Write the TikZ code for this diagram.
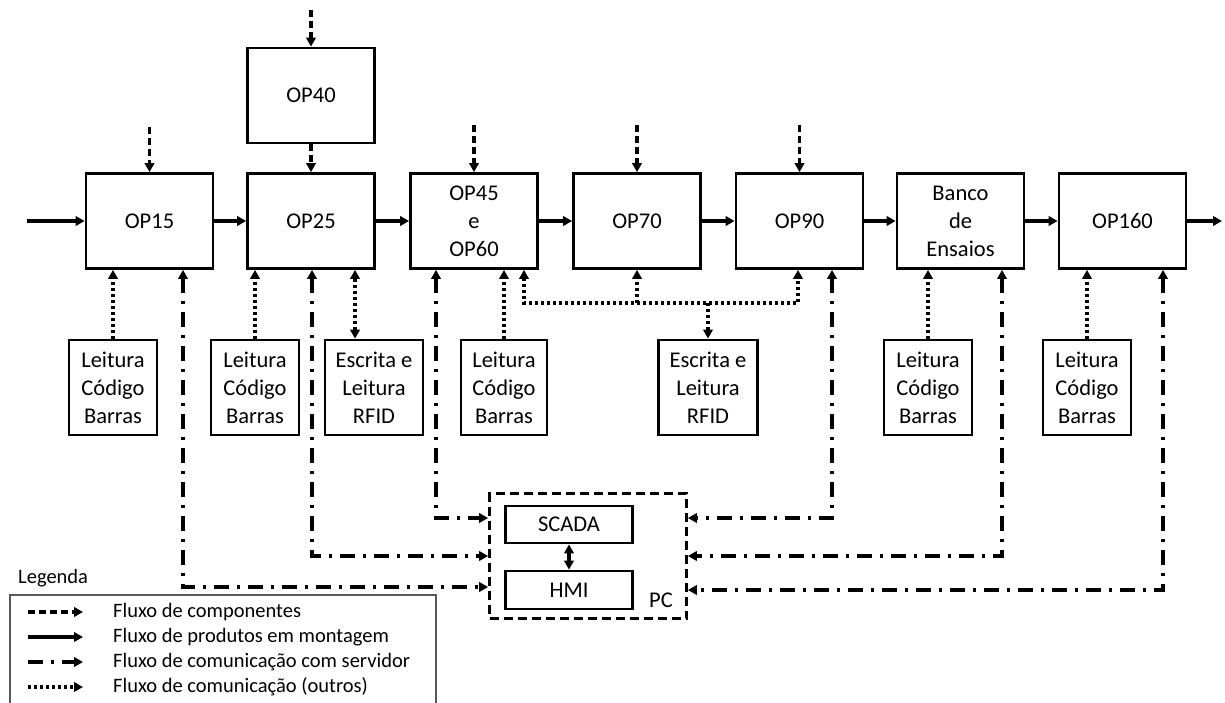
\documentclass[tikz,border=0pt]{standalone}
\usepackage{fontspec}
\setmainfont{Carlito}
\usetikzlibrary{arrows.meta}
\begin{document}
\begin{tikzpicture}[x=1pt,y=-1pt,
  box/.style={draw, line width=2.8pt, minimum width=127pt, minimum height=95pt, inner sep=0pt, align=center, font=\fontsize{22.5}{28}\selectfont},
  sbox/.style={draw, line width=2.8pt, minimum width=88pt, minimum height=95pt, inner sep=0pt, align=center, font=\fontsize{22.5}{28}\selectfont},
  rbox/.style={sbox, minimum width=99pt},
  ibox/.style={draw, line width=2.8pt, minimum width=127pt, minimum height=37pt, inner sep=0pt, font=\fontsize{22.5}{28}\selectfont},
  tipa/.style={-{Triangle[length=9pt,width=9.5pt]}},
  tipb/.style={{Triangle[length=9pt,width=9.5pt]}-{Triangle[length=9pt,width=9.5pt]}},
  solidflow/.style={line width=3.2pt, tipa},
  compflow/.style={line width=3.2pt, dash pattern=on 7pt off 4pt, tipa},
  serverflow/.style={line width=3.2pt, dash pattern=on 15pt off 8pt on 3pt off 8pt},
  otherflow/.style={line width=3.2pt, dash pattern=on 3pt off 3pt},
  legtext/.style={anchor=west, inner sep=0pt, font=\fontsize{20.5}{24}\selectfont},
]
\useasboundingbox (0,0) rectangle (1225,702);

% main stations
\node[box] (op15) at (149.5,221) {OP15};
\node[box] (op25) at (311,221) {OP25};
\node[box] (op40) at (311,95.5) {OP40};
\node[box] (op45) at (474,221) {OP45\\e\\OP60};
\node[box] (op70) at (637,221) {OP70};
\node[box] (op90) at (799.5,221) {OP90};
\node[box] (banco) at (960.5,221) {Banco\\de\\Ensaios};
\node[box] (op160) at (1122.5,221) {OP160};

% lower boxes
\node[sbox] (lcb1) at (113,387.5) {Leitura\\Código\\Barras};
\node[sbox] (lcb2) at (255,387.5) {Leitura\\Código\\Barras};
\node[rbox, minimum width=98pt] (rfid1) at (374,387.5) {Escrita e\\Leitura\\RFID};
\node[sbox, minimum width=86pt] (lcb3) at (504,387.5) {Leitura\\Código\\Barras};
\node[rbox] (rfid2) at (708,387.5) {Escrita e\\Leitura\\RFID};
\node[sbox] (lcb4) at (928,387.5) {Leitura\\Código\\Barras};
\node[sbox] (lcb5) at (1087,387.5) {Leitura\\Código\\Barras};

% PC
\node[draw, line width=2.8pt, dash pattern=on 9pt off 5pt, minimum width=197pt, minimum height=125pt, inner sep=0pt] (pc) at (588,556) {};
\node[ibox] (scada) at (569,524.5) {SCADA};
\node[ibox, minimum height=38pt] (hmi) at (569,590) {HMI};
\node[inner sep=0pt, font=\fontsize{22.5}{28}\selectfont] (pclabel) at (661,600) {PC};
\draw[line width=3.2pt, tipb] (scada) -- (hmi);

% product flow
\coordinate (in) at (27,221);
\coordinate (out) at (1222,221);
\draw[solidflow] (in) -- (op15.west);
\draw[solidflow] (op15) -- (op25);
\draw[solidflow] (op25) -- (op45);
\draw[solidflow] (op45) -- (op70);
\draw[solidflow] (op70) -- (op90);
\draw[solidflow] (op90) -- (banco);
\draw[solidflow] (banco) -- (op160);
\draw[solidflow] (op160.east) -- (out);

% components flow
\coordinate (c15) at (149.5,127);
\coordinate (c40) at (311,10);
\coordinate (c45) at (474,125);
\coordinate (c70) at (637,125);
\coordinate (c90) at (799.5,125);
\draw[compflow] (c15) -- (op15.north);
\draw[compflow] (c40) -- (op40.north);
\draw[compflow] (op40.south) -- (op25.north);
\draw[compflow] (c45) -- (op45.north);
\draw[compflow] (c70) -- (op70.north);
\draw[compflow] (c90) -- (op90.north);

% other communication (dotted)
\draw[otherflow, tipa] (lcb1.north) -- (lcb1.north |- op15.south);
\draw[otherflow, tipa] (lcb2.north) -- (lcb2.north |- op25.south);
\coordinate (r1) at (355,300);
\draw[otherflow, tipb] (r1 |- rfid1.north) -- (r1 |- op25.south);
\draw[otherflow, tipa] (lcb3.north) -- (lcb3.north |- op45.south);
\draw[otherflow, tipa] (lcb4.north) -- (lcb4.north |- banco.south);
\draw[otherflow, tipa] (lcb5.north) -- (lcb5.north |- op160.south);
\coordinate (busa) at (524,303);
\coordinate (busb) at (798,303);
\draw[otherflow, tipb] (busa |- op45.south) -- (busa) -- (busb) -- (busb |- op90.south);
\draw[otherflow, tipa] (op70.south |- busa) -- (op70.south);
\draw[otherflow, tipa] (rfid2.north |- busa) -- (rfid2.north);

% server communication (dash-dot)
\coordinate (s15) at (183,587);
\coordinate (s25) at (312,556);
\coordinate (s45) at (436,518);
\coordinate (s90) at (832,518);
\coordinate (sbc) at (1002,556);
\coordinate (s160) at (1163,590);
\draw[serverflow, tipb] (s15 |- op15.south) -- (s15) -- (s15 -| pc.west);
\draw[serverflow, tipb] (s25 |- op25.south) -- (s25) -- (s25 -| pc.west);
\draw[serverflow, tipb] (s45 |- op45.south) -- (s45) -- (s45 -| pc.west);
\draw[serverflow, tipb] (s90 |- op90.south) -- (s90) -- (s90 -| pc.east);
\draw[serverflow, tipb] (sbc |- banco.south) -- (sbc) -- (sbc -| pc.east);
\draw[serverflow, tipb] (s160 |- op160.south) -- (s160) -- (s160 -| pc.east);

% legend
\node[anchor=west, inner sep=0pt, font=\fontsize{20.5}{24}\selectfont] (legtitle) at (18,578) {Legenda};
\draw[line width=1.2pt, black!65] (10,720) -- (10,595) -- (436,595) -- (436,720);
\node[legtext] (t1) at (113,612) {Fluxo de componentes};
\node[legtext] (t2) at (113,637) {Fluxo de produtos em montagem};
\node[legtext] (t3) at (113,662) {Fluxo de comunicação com servidor};
\node[legtext] (t4) at (113,687) {Fluxo de comunicação (outros)};
\coordinate (l1) at (28,612);
\coordinate (l2) at (28,637);
\coordinate (l3) at (28,662);
\coordinate (l4) at (28,687);
\coordinate (le) at (83,0);
\draw[compflow] (l1) -- (l1 -| le);
\draw[solidflow] (l2) -- (l2 -| le);
\draw[serverflow, tipa] (l3) -- (l3 -| le);
\draw[otherflow, tipa] (l4) -- (l4 -| le);
\end{tikzpicture}
\end{document}
